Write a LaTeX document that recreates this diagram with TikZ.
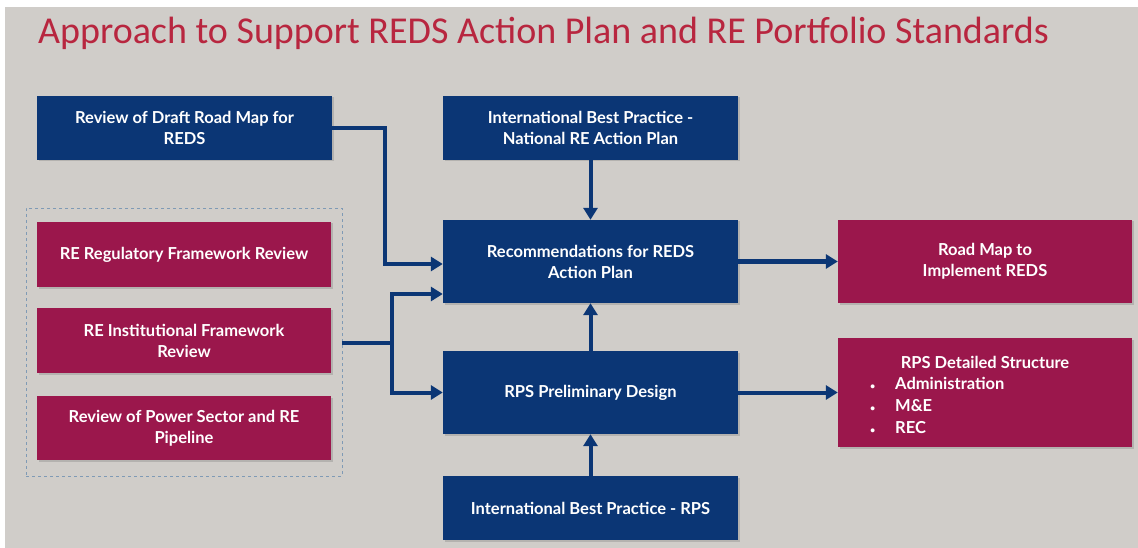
\documentclass[tikz,border=0pt]{standalone}
\usepackage{fontspec}
\setmainfont{Lato}
\newfontfamily\titlefont{Carlito}
\usetikzlibrary{arrows.meta,shadows}
\definecolor{bgray}{HTML}{D0CDC9}
\definecolor{navy}{HTML}{0B3675}
\definecolor{wine}{HTML}{9B174C}
\definecolor{titlered}{HTML}{B8263F}
\definecolor{dashblue}{HTML}{7F9AB5}
\begin{document}
\begin{tikzpicture}[x=1pt,y=-1pt,
  boxbase/.style={rectangle,minimum width=295pt,text=white,align=center,
    font=\bfseries\fontsize{16.5}{21}\selectfont,inner sep=0pt,
    drop shadow={opacity=0.35,shadow xshift=1.5pt,shadow yshift=-1.5pt}},
  navybox/.style={boxbase,fill=navy},
  winebox/.style={boxbase,fill=wine},
  conn/.style={draw=navy,line width=4pt,-{Triangle[length=12pt,width=14pt]}},
  plainconn/.style={draw=navy,line width=4pt}
]
\useasboundingbox (0,0) rectangle (1138,548);
\fill[white] (0,0) rectangle (1138,548);
\fill[bgray] (5,7) rectangle (1138,548);

\node[anchor=west,text=titlered,font=\titlefont\fontsize{38}{42}\selectfont,inner sep=0pt] (title) at (38,33) {Approach to Support REDS Action Plan and RE Portfolio Standards};

% dashed group
\node[draw=dashblue,dashed,line width=0.8pt,minimum width=316pt,minimum height=268pt,inner sep=0pt] (grp) at (184,342) {};

\node[navybox,minimum height=64pt] (draft) at (184.5,128) {Review of Draft Road Map for\\REDS};
\node[navybox,minimum height=64pt] (ibpn) at (590.5,128) {International Best Practice -\\National RE Action Plan};
\node[navybox,minimum height=83pt] (rec) at (590.5,261.5) {Recommendations for REDS\\Action Plan};
\node[navybox,minimum height=83pt] (rps) at (590.5,392.5) {RPS Preliminary Design};
\node[navybox,minimum height=64pt] (ibpr) at (590.5,508) {International Best Practice - RPS};

\node[winebox,minimum width=294pt,minimum height=65pt] (reg) at (184,254.5) {RE Regulatory Framework Review};
\node[winebox,minimum width=294pt,minimum height=65pt] (inst) at (184,340.5) {RE Institutional Framework\\Review};
\node[winebox,minimum width=294pt,minimum height=64pt] (pow) at (184,428) {Review of Power Sector and RE\\Pipeline};

\node[winebox,minimum width=294pt,minimum height=83pt] (road) at (985,261.5) {Road Map to\\Implement REDS};
\node[winebox,minimum width=294pt,minimum height=109pt] (det) at (985,392.5) {};
\node[text=white,font=\bfseries\fontsize{16.5}{21}\selectfont,inner sep=0pt,anchor=center] (dett) at (985,362) {RPS Detailed Structure};
\node[text=white,font=\bfseries\fontsize{16.5}{22}\selectfont,inner sep=0pt,anchor=north west,align=left] (detl) at (870,377)
  {\makebox[25pt][l]{\small\textbullet}Administration\\\makebox[25pt][l]{\small\textbullet}M\&E\\\makebox[25pt][l]{\small\textbullet}REC};

\coordinate (j1) at (385,128);
\coordinate (j2) at (392,343);
\draw[conn] (draft.east |- j1) -- (j1) |- ([yshift=-2.5pt]rec.west);
\draw[plainconn] (grp.east |- j2) -- (j2);
\draw[conn] (j2) |- ([yshift=-32.5pt]rec.west);
\draw[conn] (j2) |- (rps.west);
\draw[conn] (ibpn.south) -- (rec.north);
\draw[conn] (rps.north) -- (rec.south);
\draw[conn] (ibpr.north) -- (rps.south);
\draw[conn] (rec.east) -- (road.west);
\draw[conn] (rps.east) -- (det.west);
\end{tikzpicture}
\end{document}
